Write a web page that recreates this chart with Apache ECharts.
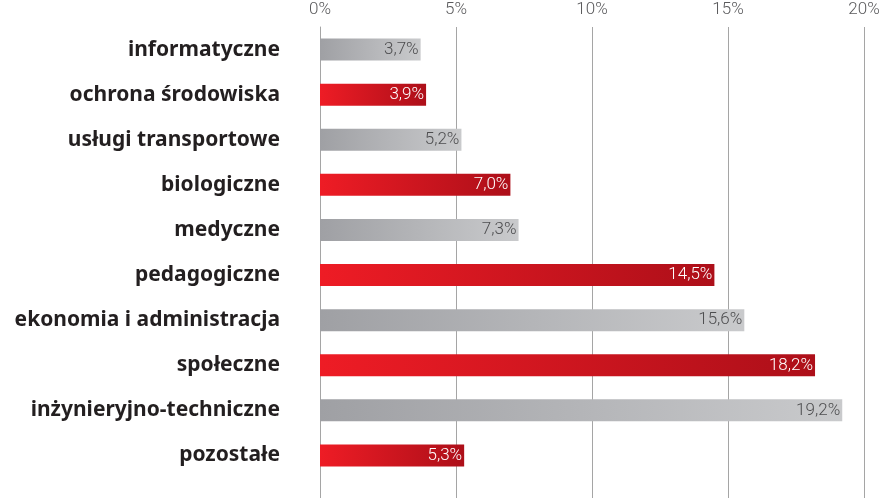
<!DOCTYPE html>
<html><head><meta charset="utf-8">
<script src="https://cdn.jsdelivr.net/npm/echarts@6/dist/echarts.min.js"></script>
<style>html,body{margin:0;padding:0;background:#fff}#c{width:883px;height:498px}</style>
</head><body><div id="c"></div>
<script>
const categories = ["informatyczne","ochrona środowiska","usługi transportowe","biologiczne","medyczne","pedagogiczne","ekonomia i administracja","społeczne","inżynieryjno-techniczne","pozostałe"];
const values = [3.7,3.9,5.2,7.0,7.3,14.5,15.6,18.2,19.2,5.3];
const barKinds = ["gray","red","gray","red","gray","red","gray","red","gray","red"];
const tickLabels = ["0%","5%","10%","15%","20%"];

const grayGrad = new echarts.graphic.LinearGradient(0,0,1,0,[{offset:0,color:'#9fa0a4'},{offset:1,color:'#c9cacc'}]);
const redGrad = new echarts.graphic.LinearGradient(0,0,1,0,[{offset:0,color:'#ee1c25'},{offset:1,color:'#ad0f19'}]);

const data = values.map((v,i)=>({
  value:v,
  itemStyle:{color: barKinds[i]==='red'?redGrad:grayGrad},
  label:{color: barKinds[i]==='red'?'#ffffff':'#4d4d4f'}
}));

const chart = echarts.init(document.getElementById('c'));
chart.setOption({
  animation:false,
  grid:[
    {left:320,right:19,top:27,bottom:20,containLabel:false},
    {left:320,right:19,top:470,bottom:0,containLabel:false}
  ],
  xAxis:[{
    type:'value',position:'top',min:0,max:20,interval:5,gridIndex:0,
    axisLine:{show:false},axisTick:{show:false},
    axisLabel:{formatter:(v)=>tickLabels[v/5],color:'#5a5a5c',fontSize:17,fontWeight:300,fontFamily:'Roboto',margin:9},
    splitLine:{show:true,lineStyle:{color:'#a5a5a5',width:1}}
  },{
    type:'value',min:0,max:20,interval:5,gridIndex:1,
    axisLine:{show:false},axisTick:{show:false},axisLabel:{show:false},
    splitLine:{show:true,lineStyle:{color:'#a5a5a5',width:1}}
  }],
  yAxis:[{
    type:'category',inverse:true,data:categories,gridIndex:0,
    axisLine:{show:true,lineStyle:{color:'#a5a5a5'}},axisTick:{show:false},
    axisLabel:{color:'#231f20',fontSize:21,fontWeight:'bold',fontFamily:'Noto Sans',margin:40}
  },{
    type:'value',min:0,max:1,gridIndex:1,
    axisLine:{show:true,lineStyle:{color:'#a5a5a5'}},axisTick:{show:false},axisLabel:{show:false},
    splitLine:{show:false}
  }],
  series:[{
    type:'bar',data:data,barWidth:22,xAxisIndex:0,yAxisIndex:0,z:3,
    label:{show:true,position:'insideRight',offset:[3,0],fontSize:17,fontWeight:300,fontFamily:'Roboto',
      formatter:(p)=>p.value.toFixed(1).replace('.',',')+'%'}
  }]
});
</script></body></html>
